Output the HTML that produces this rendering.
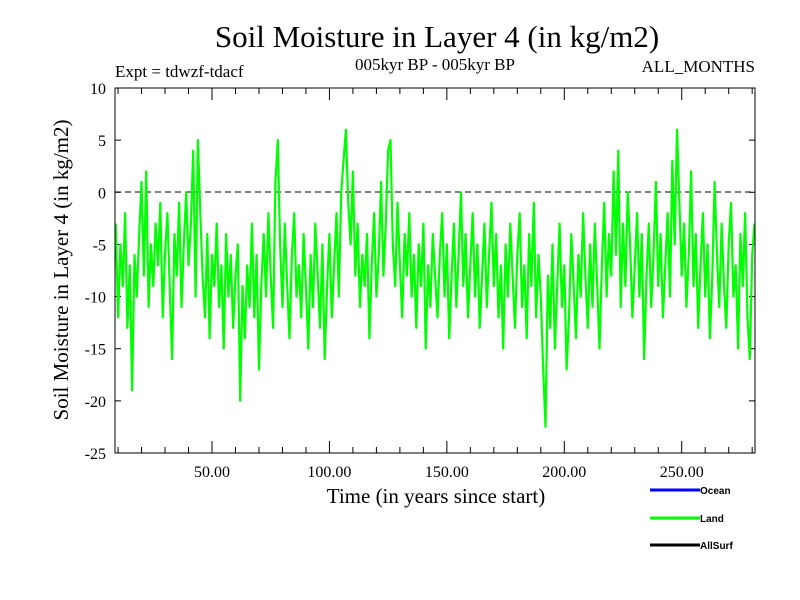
<!DOCTYPE html>
<html><head><meta charset="utf-8"><style>
body{margin:0;background:#fff}
svg{display:block}
text{font-family:"Liberation Serif",serif}
</style></head><body>
<svg id="chart" width="800" height="600">
<text x="437" y="47" font-size="31" text-anchor="middle">Soil Moisture in Layer 4 (in kg/m2)</text>
<text x="115" y="77" font-size="17">Expt = tdwzf-tdacf</text>
<text x="435" y="70" font-size="17" text-anchor="middle">005kyr BP - 005kyr BP</text>
<text x="755" y="72" font-size="17" text-anchor="end">ALL_MONTHS</text>
<text transform="translate(68,270) rotate(-90)" font-size="21" text-anchor="middle">Soil Moisture in Layer 4 (in kg/m2)</text>
<text x="436" y="503" font-size="21" text-anchor="middle">Time (in years since start)</text>
<g id="ticks"></g>
<line x1="115" x2="755" y1="192" y2="192" stroke="#000" stroke-dasharray="6,4"/>
<polyline id="series" fill="none" stroke="#00ff00" stroke-width="2.2" stroke-linejoin="round"/>
<rect x="115" y="88" width="640" height="365" fill="none" stroke="#000"/>
<g font-size="10" font-weight="bold">
<line x1="650" x2="700" y1="490" y2="490" stroke="#0000ff" stroke-width="3"/>
<text x="700" y="494" style="font-family:'Liberation Sans',sans-serif">Ocean</text>
<line x1="650" x2="700" y1="518" y2="518" stroke="#00ff00" stroke-width="3"/>
<text x="700" y="522" style="font-family:'Liberation Sans',sans-serif">Land</text>
<line x1="650" x2="700" y1="545" y2="545" stroke="#000" stroke-width="3"/>
<text x="700" y="549" style="font-family:'Liberation Sans',sans-serif">AllSurf</text>
</g>
</svg>
<script>
const startYear = 9;
const values = [
-3,-12,-5,-9,-2,-13,-7,-19,-6,-10,
-4,1,-8,2,-11,-5,-9,-3,-7,-1,
-12,-6,-2,-9,-16,-4,-8,-1,-11,-5,
0,-7,-3,4,-10,5,-2,-8,-12,-4,
-14,-6,-9,-3,-11,-7,-15,-4,-10,-6,
-13,-8,-5,-20,-9,-14,-7,-11,-3,-12,
-6,-17,-9,-4,-10,-2,-8,-13,1,5,
-5,-11,-3,-9,-14,-6,-2,-10,-7,-12,
-4,-9,-15,-6,-11,-3,-8,-13,-5,-16,
-9,-4,-12,-7,-2,-10,0,3,6,-1,
-5,2,-8,-3,-11,-6,-9,-4,-14,-7,
-2,-10,-6,1,-8,-3,4,5,-5,-9,
-1,-7,-12,-4,-8,-2,-10,-6,-13,-5,
-9,-3,-15,-7,-11,-4,-8,-12,-6,-2,
-10,-5,-14,-8,-3,-11,-6,0,-9,-4,
-12,-7,-2,-10,-5,-13,-8,-3,-11,-6,
-1,-9,-4,-12,-7,-15,-5,-10,-3,-8,
-13,-6,-2,-11,-7,-14,-4,-9,-1,-12,
-6,-10,-17,-22.5,-8,-13,-5,-15,-9,-3,
-11,-7,-17,-12,-4,-9,-14,-6,-10,-2,
-8,-13,-5,-11,-3,-9,-15,-7,-1,-10,
-4,-8,2,-6,4,-11,-3,-9,0,-5,
-12,-7,-2,-10,-4,-16,-8,-3,-11,-6,
1,-9,-4,-12,-7,-2,-10,3,-5,6,
-1,-8,-3,-11,-6,2,-9,-4,-13,-7,
-2,-10,-5,-14,-8,1,-6,-11,-3,-9,
-13,-5,-1,-10,-7,-15,-4,-9,-2,-12,
-16,-6,-3];
const yTicks = [10,5,0,-5,-10,-15,-20,-25];
const xTicks = [50,100,150,200,250];
const xTickLabels = ["50.00","100.00","150.00","200.00","250.00"];
const xMin = 8.7, xMax = 281.2, yMin = -25, yMax = 10;
const X = v => 115 + (v - xMin) / (xMax - xMin) * 640;
const Y = v => 453 - (v - yMin) / (yMax - yMin) * 365;
const ns = "http://www.w3.org/2000/svg";
const g = document.getElementById('ticks');
function mk(tag, attrs){const e=document.createElementNS(ns,tag);for(const k in attrs)e.setAttribute(k,attrs[k]);g.appendChild(e);return e;}
yTicks.forEach(t=>{
  const y=Y(t);
  const l=mk('line',{x1:115,x2:121,y1:y,y2:y,stroke:'#000'});
  
  
  const r=mk('line',{x1:749,x2:755,y1:y,y2:y,stroke:'#000'});
  
  
  const tx=mk('text',{x:106,y:y+6,'font-size':16,'text-anchor':'end'});
  tx.textContent=t;
  
  
});
for(let v=10; v<=280; v+=10){
  const x=X(v), major=v%50===0;
  const l=mk('line',{x1:x,x2:x,y1:453,y2:453-(major?12:6),stroke:'#000'});
  
  
  const t=mk('line',{x1:x,x2:x,y1:88,y2:88+(major?12:6),stroke:'#000'});
  
  
}
xTicks.forEach((v,i)=>{
  const tx=mk('text',{x:X(v),y:477,'font-size':16,'text-anchor':'middle'});
  tx.textContent=xTickLabels[i];
  
  
});
document.getElementById('series').setAttribute('points',
  values.map((v,i)=>X(startYear+i).toFixed(1)+','+Y(v).toFixed(1)).join(' '));
</script>
</body></html>
